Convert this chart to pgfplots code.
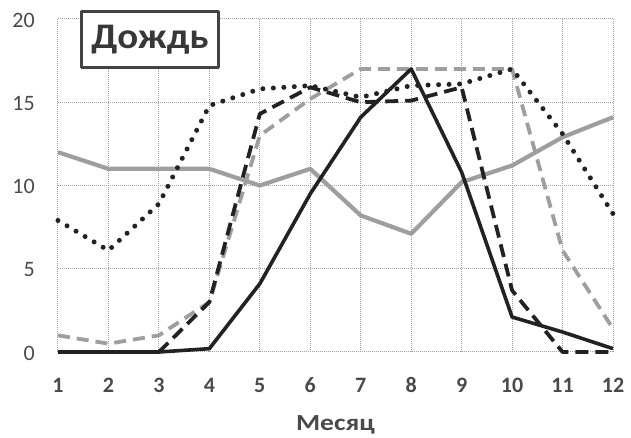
\documentclass[border=0pt]{standalone}
\usepackage{fontspec}
\setmainfont{Carlito}
\usepackage{pgfplots}
\pgfplotsset{compat=1.18}

\definecolor{ink}{HTML}{222222}
\definecolor{lgray}{HTML}{9E9E9E}
\definecolor{gridc}{HTML}{A0A0A0}
\definecolor{labc}{HTML}{4A4A4A}

\begin{document}
\begin{tikzpicture}
\begin{axis}[
	scale only axis,
	width=555pt,
	height=333pt,
	xmin=1, xmax=12,
	ymin=0, ymax=20,
	xtick={1,...,12},
	ytick={0,5,10,15,20},
	axis line style={draw=none},
	major tick length=0pt,
	grid=major,
	major grid style={gridc, line width=1pt, dash pattern=on 1pt off 1pt},
	/pgf/number format/assume math mode=true,
	xticklabel style={font=\fontsize{22}{22}\selectfont\bfseries, text=labc, anchor=base, inner sep=0pt, yshift=-41pt},
	yticklabel style={font=\fontsize{22}{22}\selectfont, text=labc, anchor=east, inner sep=0pt, xshift=-23pt, yshift=-1pt},
	xlabel={Месяц},
	xlabel style={at={(rel axis cs:0.5,0)}, anchor=base, yshift=-78pt, font=\fontsize{23}{23}\selectfont\bfseries, text=labc, inner sep=0pt, xscale=1.2},
	clip=false,
	line join=round,
]

	% gray solid
	\addplot[lgray, line width=4.2pt] coordinates {
		(1,12) (2,11) (3,11) (4,11) (5,10) (6,11)
		(7,8.2) (8,7.1) (9,10.2) (10,11.2) (11,12.9) (12,14.1)};

	% gray dashed
	\addplot[lgray, line width=3.8pt, dash pattern=on 12pt off 7pt] coordinates {
		(1,1) (2,0.5) (3,1) (4,3) (5,13) (6,15.2)
		(7,17) (8,17) (9,17) (10,17) (11,6.1) (12,1.4)};

	% black dotted
	\addplot[ink, line width=5pt, line cap=round, dash pattern=on 0pt off 10.5pt] coordinates {
		(1,7.9) (2,6.1) (3,8.9) (4,14.8) (5,15.8) (6,16)
		(7,15.3) (8,16) (9,16.1) (10,17) (11,13.1) (12,8.3)};

	% black dashed
	\addplot[ink, line width=3.8pt, dash pattern=on 13pt off 7pt] coordinates {
		(3,0) (4,3) (5,14.3) (6,15.9)
		(7,15) (8,15.1) (9,15.9) (10,3.7) (11,0) (12,0)};

	% black solid
	\addplot[ink, line width=3.6pt] coordinates {
		(1,0) (2,0) (3,0) (4,0.2) (5,4.1) (6,9.5)
		(7,14.1) (8,17) (9,10.8) (10,2.1) (11,1.2) (12,0.2)};

	\node[draw=ink!85, line width=2.5pt, fill=white, anchor=north west,
		minimum width=137pt, minimum height=56pt, inner sep=0pt,
		font=\fontsize{36}{36}\selectfont\bfseries, text=ink!90]
		at (axis cs:1.44,20.54) {\scalebox{1.08}[1]{Дождь}};
\end{axis}
\path (current axis.south west) ++(-58pt,-86pt) rectangle ++(631pt,438pt);
\end{tikzpicture}
\end{document}
